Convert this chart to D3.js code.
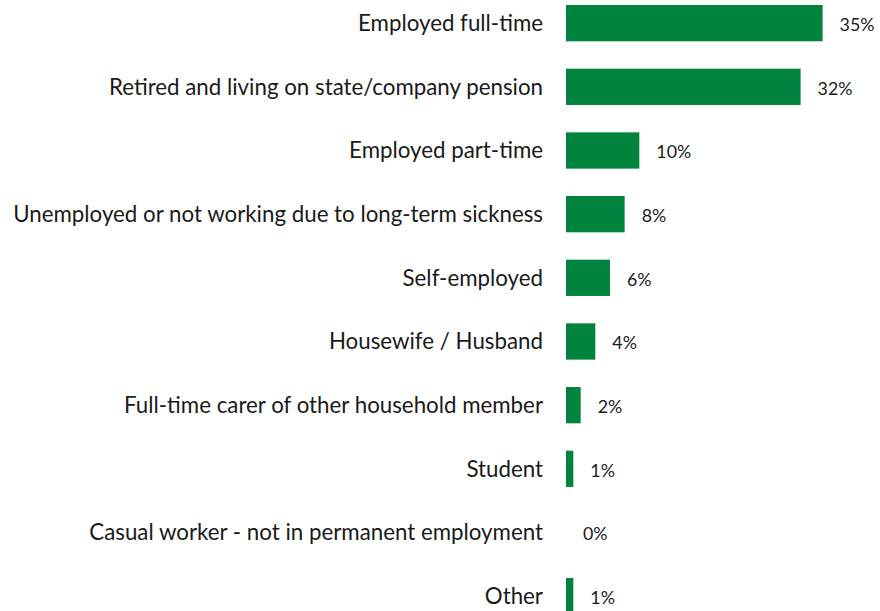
<!DOCTYPE html>
<html>
<head>
<meta charset="utf-8">
<script src="https://cdn.jsdelivr.net/npm/d3@7"></script>
<style>
  html, body { margin: 0; padding: 0; background: #ffffff; }
  svg { display: block; }
  text { font-family: Lato, "Open Sans", sans-serif; fill: #1a1a1a; }
</style>
</head>
<body>
<svg id="chart" width="880" height="611"></svg>
<script>
// Employment status, share of respondents (%)
const categories = [
  "Employed full-time",
  "Retired and living on state/company pension",
  "Employed part-time",
  "Unemployed or not working due to long-term sickness",
  "Self-employed",
  "Housewife / Husband",
  "Full-time carer of other household member",
  "Student",
  "Casual worker - not in permanent employment",
  "Other"
];
const values = [35, 32, 10, 8, 6, 4, 2, 1, 0, 1];
const valueLabels = ["35%", "32%", "10%", "8%", "6%", "4%", "2%", "1%", "0%", "1%"];

const barColor = "#00843d";
const rows = categories.map((c, i) => ({ cat: c, v: values[i], label: valueLabels[i] }));

const svg = d3.select("#chart");

const x = d3.scaleLinear().domain([0, 35]).range([566, 822.6]);

const step = 63.67;
const y = d3.scaleBand()
  .domain(categories)
  .range([5 - 0.215 * step, 5 - 0.215 * step + categories.length * step])
  .paddingInner(0.43)
  .paddingOuter(0.215);

// bars
svg.append("g").selectAll("rect")
  .data(rows)
  .join("rect")
  .attr("x", x(0))
  .attr("y", d => y(d.cat))
  .attr("width", d => x(d.v) - x(0))
  .attr("height", y.bandwidth())
  .attr("fill", barColor);

// category labels, right-aligned against the bars
svg.append("g").selectAll("text")
  .data(rows)
  .join("text")
  .attr("x", 543)
  .attr("y", d => y(d.cat) + y.bandwidth() / 2)
  .attr("dy", "0.35em")
  .attr("text-anchor", "end")
  .style("font-size", "22.3px")
  .text(d => d.cat);

// value labels after each bar
svg.append("g").selectAll("text")
  .data(rows)
  .join("text")
  .attr("x", d => x(d.v) + 17)
  .attr("y", d => y(d.cat) + y.bandwidth() / 2 + 1.5)
  .attr("dy", "0.36em")
  .style("font-size", "17.8px")
  .text(d => d.label);
</script>
</body>
</html>
